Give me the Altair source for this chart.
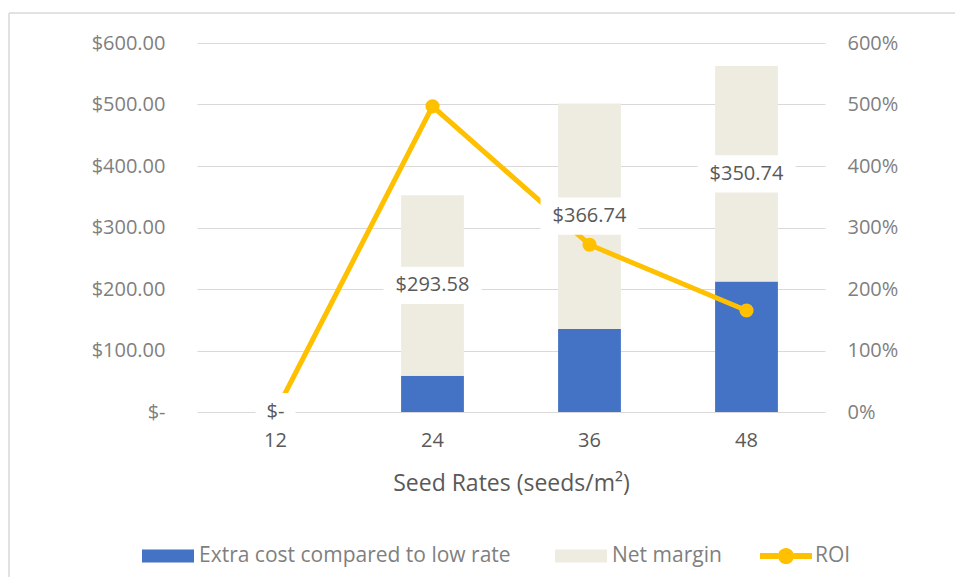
import altair as alt
import pandas as pd

seed_rates = ["12", "24", "36", "48"]
extra_cost = [0, 59, 135, 212]
net_margin = [0, 293.58, 366.74, 350.74]
roi = [0, 4.97, 2.72, 1.65]

series_names = ["Extra cost compared to low rate", "Net margin"]
bar_colors = ["#4472C4", "#EEECE1"]
line_color = "#FFC000"

df = pd.DataFrame({"seed": seed_rates, "extra": extra_cost, "net": net_margin, "roi": roi})
long_rows = []
for s, e, n in zip(seed_rates, extra_cost, net_margin):
    long_rows.append({"seed": s, "series": series_names[0], "value": e, "ord": 0})
    long_rows.append({"seed": s, "series": series_names[1], "value": n, "ord": 1})
df_long = pd.DataFrame(long_rows)

W, H = 628, 369
FONT = "Open Sans"
GRID = "#D9D9D9"

xenc = alt.X(
    "seed:N", sort=seed_rates,
    scale=alt.Scale(paddingInner=0.6, paddingOuter=0.3),
    axis=alt.Axis(title="Seed Rates (seeds/m²)", labelAngle=0, ticks=False, domain=False,
                  labelFontSize=20, labelColor="#595959", labelPadding=18, labelFont=FONT,
                  titleFontSize=23, titleColor="#595959", titleFontWeight="normal",
                  titlePadding=22, titleFont=FONT),
)

money_scale = alt.Scale(domain=[0, 600], nice=False)
pct_scale = alt.Scale(domain=[0, 6], nice=False)

bars = alt.Chart(df_long).mark_bar().encode(
    x=xenc,
    y=alt.Y("value:Q", stack="zero", scale=money_scale,
            axis=alt.Axis(title=None, values=[0, 100, 200, 300, 400, 500, 600],
                          labelExpr="datum.value == 0 ? '$-' : '$' + format(datum.value, ',.2f')",
                          ticks=False, domain=False, gridColor=GRID, gridWidth=1,
                          labelFontSize=20, labelColor="#7F7F7F", labelPadding=32, labelFont=FONT)),
    color=alt.Color("series:N", scale=alt.Scale(domain=series_names, range=bar_colors),
                    legend=alt.Legend(orient="none", legendX=-55, legendY=487, direction="horizontal",
                                      title=None, symbolType="M-1,-0.25H1V0.25H-1Z", symbolSize=2704,
                                      symbolStrokeWidth=0, symbolOpacity=1, labelFontSize=21,
                                      labelColor="#7F7F7F", labelFont=FONT, labelOffset=5,
                                      columnPadding=44, labelLimit=400)),
    order=alt.Order("ord:Q"),
)

line = alt.Chart(df).transform_calculate(series="'ROI'").mark_line(strokeWidth=5).encode(
    x=alt.X("seed:N", sort=seed_rates),
    y=alt.Y("roi:Q", scale=pct_scale,
            axis=alt.Axis(title=None, values=[0, 1, 2, 3, 4, 5, 6], format=".0%", orient="right",
                          ticks=False, domain=False, grid=False,
                          labelFontSize=20, labelColor="#7F7F7F", labelPadding=22, labelFont=FONT)),
    stroke=alt.Stroke("series:N", scale=alt.Scale(domain=["ROI"], range=[line_color]),
                      legend=alt.Legend(orient="none", legendX=563, legendY=487, title=None,
                                        symbolType="M-1,-0.115H-0.3V0.115H-1Z M0.3,-0.115H1V0.115H0.3Z M-0.31,0A0.31,0.31 0 1,1 0.31,0A0.31,0.31 0 1,1 -0.31,0Z",
                                        symbolSize=2704, symbolFillColor=line_color, symbolStrokeWidth=0,
                                        labelFontSize=21, labelColor="#7F7F7F", labelFont=FONT,
                                        labelOffset=3)),
)

points = alt.Chart(df).mark_point(filled=True, size=200, opacity=1, color=line_color).encode(
    x=alt.X("seed:N", sort=seed_rates),
    y=alt.Y("roi:Q", scale=pct_scale, axis=None),
)

lab = alt.Chart(df).transform_calculate(
    mid="datum.extra + datum.net / 2",
    txt="datum.net == 0 ? '$-' : '$' + format(datum.net, ',.2f')",
)

boxes = lab.transform_filter("datum.net > 0").mark_point(
    shape="M-1,-0.38H1V0.38H-1Z", size=9604, filled=True, color="white", opacity=1, strokeWidth=0
).encode(
    x=alt.X("seed:N", sort=seed_rates),
    y=alt.Y("mid:Q", scale=money_scale, axis=None),
)

boxes0 = lab.transform_filter("datum.net == 0").mark_point(
    shape="M-1,-0.95H1V0.95H-1Z", size=1600, filled=True, color="white", opacity=1, strokeWidth=0
).encode(
    x=alt.X("seed:N", sort=seed_rates),
    y=alt.Y("mid:Q", scale=money_scale, axis=None),
)

texts = lab.mark_text(fontSize=20, font=FONT, color="#595959", baseline="middle").encode(
    x=alt.X("seed:N", sort=seed_rates),
    y=alt.Y("mid:Q", scale=money_scale, axis=None),
    text="txt:N",
)

frame_df = pd.DataFrame({"k": [0]})
frame_top = alt.Chart(frame_df).mark_rule(color=GRID, strokeWidth=1.5).encode(
    x=alt.value(-188), x2=alt.value(780), y=alt.value(-30))
frame_left = alt.Chart(frame_df).mark_rule(color=GRID, strokeWidth=1.5).encode(
    x=alt.value(-188), y=alt.value(-30), y2=alt.value(560))

chart = alt.layer(
    bars, line, points, boxes, boxes0, texts, frame_top, frame_left
).resolve_scale(
    y="independent"
).properties(
    width=W, height=H,
    autosize=alt.AutoSizeParams(type="none"),
    padding={"left": 189, "top": 35, "right": 130, "bottom": 165},
).configure(font=FONT).configure_view(stroke=None)

chart.save("out.html", embed_options={"renderer": "svg", "actions": False})
